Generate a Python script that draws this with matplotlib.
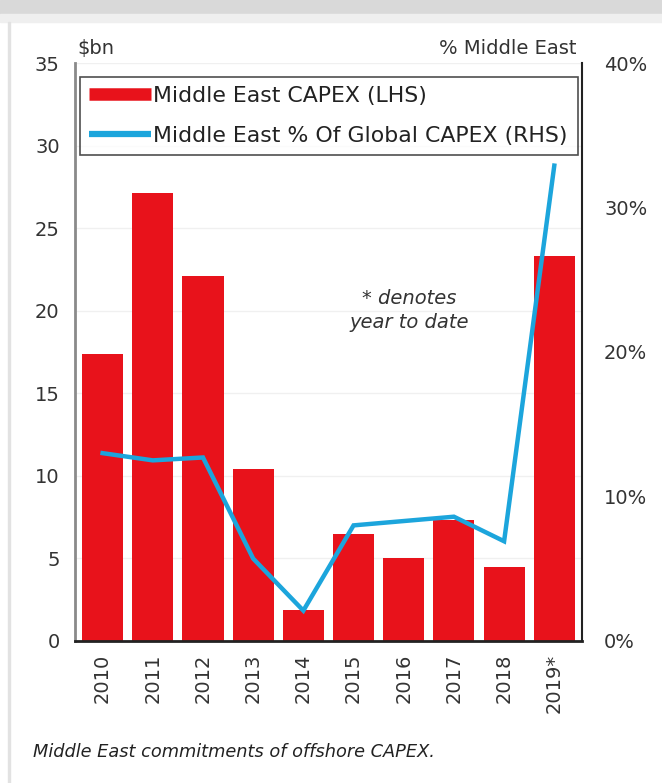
import matplotlib.pyplot as plt
from matplotlib.lines import Line2D
from matplotlib.patches import Rectangle

# Data
years = ['2010', '2011', '2012', '2013', '2014', '2015', '2016', '2017', '2018', '2019*']
capex_bn = [17.4, 27.1, 22.1, 10.4, 1.9, 6.5, 5.0, 7.3, 4.5, 23.3]
me_share_pct = [13.0, 12.5, 12.7, 5.7, 2.1, 8.0, 8.3, 8.6, 6.9, 32.9]
left_ticks = [0, 5, 10, 15, 20, 25, 30, 35]
right_ticks = [0, 10, 20, 30, 40]

RED = '#E8121B'
BLUE = '#1CA5DC'
TXT = '#333333'
FS = 14

plt.rcParams['font.family'] = ['DejaVu Sans']

fig = plt.figure(figsize=(6.62, 7.83), dpi=100)

# card look of the screenshot: grey band at the top and a thin left edge
fig.patches.append(Rectangle((0, 0.982), 1, 0.018, transform=fig.transFigure,
                             color='#d9d9d9', zorder=0))
fig.patches.append(Rectangle((0, 0.972), 1, 0.010, transform=fig.transFigure,
                             color='#efefef', zorder=0))
fig.patches.append(Rectangle((0.012, 0), 0.003, 0.972, transform=fig.transFigure,
                             color='#e2e2e2', zorder=0))

ax = fig.add_axes([0.1133, 0.1814, 0.7657, 0.7381])
ax2 = ax.twinx()

x = list(range(len(years)))
ax.bar(x, capex_bn, width=0.82, color=RED, zorder=2)
ax2.plot(x, me_share_pct, color=BLUE, lw=3.2, zorder=3, solid_joinstyle='miter')

ax.set_xlim(-0.55, 9.55)
ax.set_ylim(0, 35)
ax2.set_ylim(0, 40)
ax.set_yticks(left_ticks)
ax2.set_yticks(right_ticks)
ax2.set_yticklabels([f'{t}%' for t in right_ticks])
ax.set_xticks(x)
ax.set_xticklabels(years, rotation=90)

ax.grid(axis='y', color='#f0f0f0', lw=1, zorder=0)
ax.set_axisbelow(True)

for a in (ax, ax2):
    a.spines['top'].set_visible(False)
    a.tick_params(length=0, labelsize=FS, colors=TXT)
ax.tick_params(axis='y', pad=11)
ax2.tick_params(axis='y', pad=16)
ax.tick_params(axis='x', pad=9)
ax2.spines['left'].set_visible(False)
ax2.spines['bottom'].set_visible(False)
ax.spines['right'].set_visible(False)
ax.spines['left'].set_color('#8a8a8a')
ax.spines['left'].set_linewidth(2)
ax2.spines['right'].set_color('#222222')
ax2.spines['right'].set_linewidth(1.5)
ax.spines['bottom'].set_color('#222222')
ax.spines['bottom'].set_linewidth(2)

ax.text(0.005, 1.008, '$bn', transform=ax.transAxes, fontsize=FS,
        color=TXT, ha='left', va='bottom')
ax.text(0.99, 1.008, '% Middle East', transform=ax.transAxes, fontsize=FS,
        color=TXT, ha='right', va='bottom')

ax.text(6.1, 20.0, '* denotes\nyear to date', fontsize=FS, style='italic',
        color=TXT, ha='center', va='center', linespacing=1.3, zorder=4)

handles = [Line2D([], [], color=RED, lw=9, solid_capstyle='butt'),
           Line2D([], [], color=BLUE, lw=4.5, solid_capstyle='butt')]
labels = ['Middle East CAPEX (LHS)', 'Middle East % Of Global CAPEX (RHS)']
leg = ax2.legend(handles, labels, loc='upper left', mode='expand',
                 bbox_to_anchor=(0.01, 0.841, 0.982, 0.135),
                 fontsize=15.8, frameon=True, fancybox=False,
                 handlelength=2.8, handletextpad=0.1, borderpad=0.42,
                 labelspacing=0.9, borderaxespad=0)
leg.get_frame().set_edgecolor('#222222')
leg.get_frame().set_linewidth(1.2)
for t in leg.get_texts():
    t.set_color('#222222')

fig.text(0.05, 0.04, 'Middle East commitments of offshore CAPEX.', fontsize=12.8,
         style='italic', color='#222222', ha='left', va='center')

fig.savefig('out.png', dpi=100)
